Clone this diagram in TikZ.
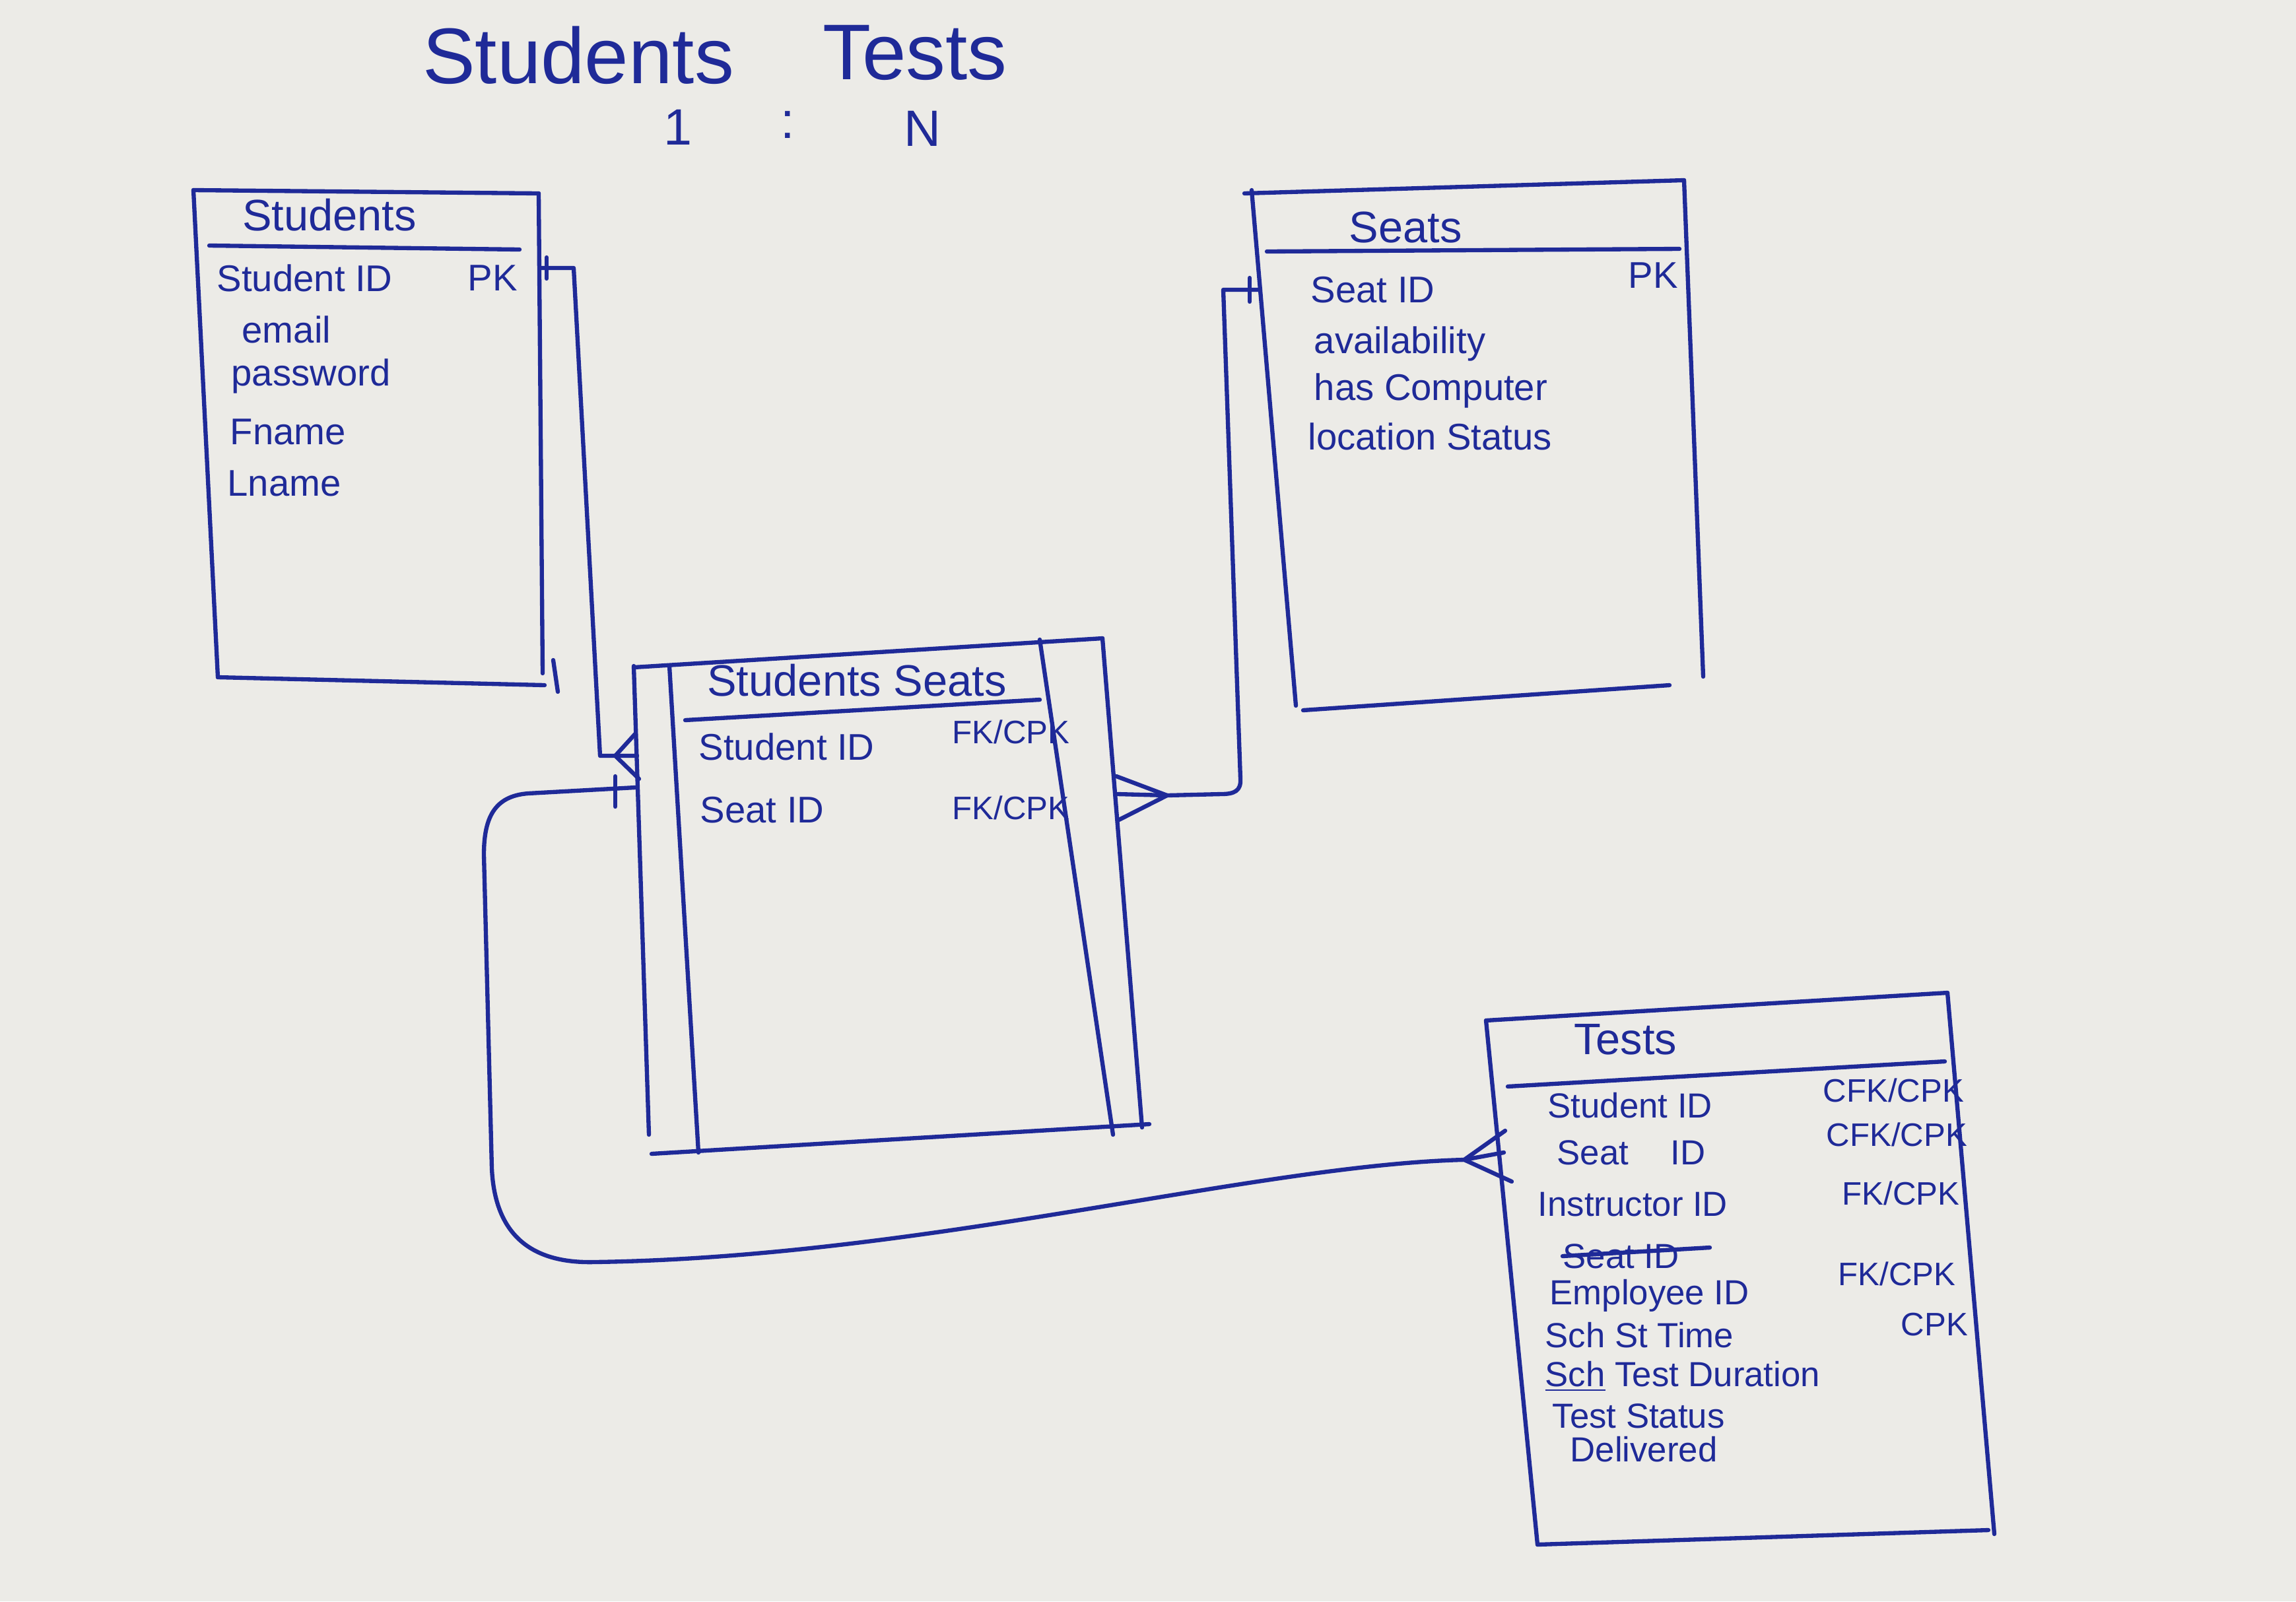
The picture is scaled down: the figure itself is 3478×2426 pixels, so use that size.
\documentclass[tikz,border=0pt]{standalone}
\usepackage{fontspec}
\setmainfont{Liberation Sans}
\definecolor{paper}{HTML}{ECEBE7}
\definecolor{ink}{HTML}{1F2A98}
\begin{document}
\begin{tikzpicture}[x=0.01cm,y=-0.01cm,
  pen/.style={draw=ink, line width=1.8pt, line cap=round, line join=round},
  heading/.style={text=ink, inner sep=0pt, font=\fontsize{34}{38}\selectfont},
  ratio/.style={text=ink, inner sep=0pt, font=\fontsize{22}{24}\selectfont},
  tabletitle/.style={text=ink, inner sep=0pt, font=\fontsize{19}{21}\selectfont},
  field/.style={text=ink, inner sep=0pt, anchor=west, font=\fontsize{16}{18}\selectfont},
  tfield/.style={text=ink, inner sep=0pt, anchor=west, font=\fontsize{15}{17}\selectfont},
  keytag/.style={text=ink, inner sep=0pt, anchor=west, font=\fontsize{14}{16}\selectfont}]

% sheet
\fill[paper] (0,0) rectangle (3478,2426);
\useasboundingbox (0,0) rectangle (3478,2426);

% heading: cardinality
\node[heading] (hStudents) at (876,84) {Students};
\node[heading] (hTests) at (1386,80) {Tests};
\node[ratio] (rOne) at (1027,193) {1};
\node[ratio] (rColon) at (1193,189) {:};
\node[ratio] (rN) at (1397,195) {N};

% ---------- Students ----------
\draw[pen] (293,288) -- (816,293);
\draw[pen] (293,288) -- (330,1026);
\draw[pen] (816,293) -- (822,1020);
\draw[pen] (330,1026) -- (825,1038);
\draw[pen] (838,1000) -- (845,1048);
\draw[pen] (317,372) -- (787,378);
\node[tabletitle] (stTitle) at (499,326) {Students};
\node[field] (stId) at (328,421) {Student ID};
\node[field] (stPk) at (708,421) {PK};
\node[field] (stEmail) at (366,499) {email};
\node[field] (stPass) at (350,570) {password};
\node[field] (stF) at (348,654) {Fname};
\node[field] (stL) at (344,732) {Lname};

% ---------- Seats ----------
\draw[pen] (1885,293) -- (2551,273);
\draw[pen] (1896,288) -- (1963,1069);
\draw[pen] (2551,273) -- (2580,1025);
\draw[pen] (1974,1076) -- (2529,1038);
\draw[pen] (1919,381) -- (2544,377);
\node[tabletitle] (seTitle) at (2129,344) {Seats};
\node[field] (seId) at (1985,439) {Seat ID};
\node[field] (sePk) at (2466,417) {PK};
\node[field] (seAv) at (1990,521) {availability};
\node[field] (seHc) at (1990,592) {has Computer};
\node[field] (seLs) at (1981,661) {location Status};

% ---------- StudentsSeats (associative) ----------
\draw[pen] (960,1011) -- (1670,967);
\draw[pen] (960,1009) -- (983,1719);
\draw[pen] (1014,1009) -- (1058,1746);
\draw[pen] (1575,969) -- (1686,1719);
\draw[pen] (1670,967) -- (1730,1708);
\draw[pen] (987,1748) -- (1741,1703);
\draw[pen] (1038,1091) -- (1575,1060);
\node[tabletitle] (ssTitle) at (1298,1031) {Students Seats};
\node[field] (ssSt) at (1058,1131) {Student ID};
\node[keytag] (ssStK) at (1442,1109) {FK/CPK};
\node[field] (ssSe) at (1060,1227) {Seat ID};
\node[keytag] (ssSeK) at (1442,1224) {FK/CPK};

% ---------- Tests ----------
\draw[pen] (2251,1546) -- (2950,1504);
\draw[pen] (2251,1546) -- (2329,2340);
\draw[pen] (2950,1504) -- (3021,2324);
\draw[pen] (2329,2340) -- (3012,2318);
\draw[pen] (2284,1646) -- (2946,1608);
\node[tabletitle] (teTitle) at (2462,1575) {Tests};
\node[tfield] (teSt) at (2344,1675) {Student ID};
\node[tfield] (teSe) at (2358,1746) {Seat\hspace{1.2em}ID};
\node[tfield] (teIn) at (2329,1825) {Instructor ID};
\node[tfield] (teOld) at (2367,1903) {Seat ID};
\node[tfield] (teEm) at (2347,1963) {Employee ID};
\node[tfield] (teSt2) at (2340,2023) {Sch St Time};
\node[tfield] (teDur) at (2340,2085) {\underline{Sch} Test Duration};
\node[tfield] (teStat) at (2351,2145) {Test Status};
\node[tfield] (teDel) at (2378,2196) {Delivered};
\node[keytag] (teK1) at (2761,1652) {CFK/CPK};
\node[keytag] (teK2) at (2766,1719) {CFK/CPK};
\node[keytag] (teK3) at (2790,1808) {FK/CPK};
\node[keytag] (teK4) at (2784,1930) {FK/CPK};
\node[keytag] (teK5) at (2879,2007) {CPK};
\coordinate (strikeEnd) at (2590,1890);
\draw[pen] (teOld.west) -- (strikeEnd);

% ---------- Students -> StudentsSeats ----------
\coordinate (r1a) at (819,406);
\coordinate (r1b) at (869,406);
\coordinate (r1c) at (909,1145);
\coordinate (r1d) at (965,1145);
\coordinate (r1apex) at (932,1145);
\coordinate (r1up) at (962,1112);
\coordinate (r1dn) at (968,1180);
\draw[pen] (r1a) -- (r1b) -- (r1c) -- (r1d);
\draw[pen] (828,390) -- (828,422);
\draw[pen] (r1up) -- (r1apex) -- (r1dn);

% ---------- Seats -> StudentsSeats ----------
\coordinate (r2a) at (1909,439);
\coordinate (r2b) at (1853,439);
\coordinate (r2c) at (1879,1180);
\coordinate (r2apex) at (1768,1205);
\coordinate (r2mid) at (1693,1203);
\coordinate (r2up) at (1691,1176);
\coordinate (r2dn) at (1695,1242);
\draw[pen] (r2a) -- (r2b) -- (r2c) .. controls (1880,1198) and (1870,1203) .. (1850,1203) -- (r2apex) -- (r2mid);
\draw[pen] (1893,421) -- (1893,457);
\draw[pen] (r2up) -- (r2apex) -- (r2dn);

% ---------- StudentsSeats -> Tests ----------
\coordinate (r3a) at (962,1193);
\coordinate (r3apex) at (2218,1757);
\coordinate (r3up) at (2280,1713);
\coordinate (r3mid) at (2278,1746);
\coordinate (r3dn) at (2290,1790);
\draw[pen] (r3a) -- (800,1202) .. controls (748,1206) and (733,1240) .. (733,1295)
  -- (745,1770) .. controls (750,1880) and (815,1914) .. (900,1912)
  .. controls (1400,1905) and (1900,1765) .. (r3apex) -- (r3mid);
\draw[pen] (932,1176) -- (932,1222);
\draw[pen] (r3up) -- (r3apex) -- (r3dn);

\end{tikzpicture}
\end{document}
